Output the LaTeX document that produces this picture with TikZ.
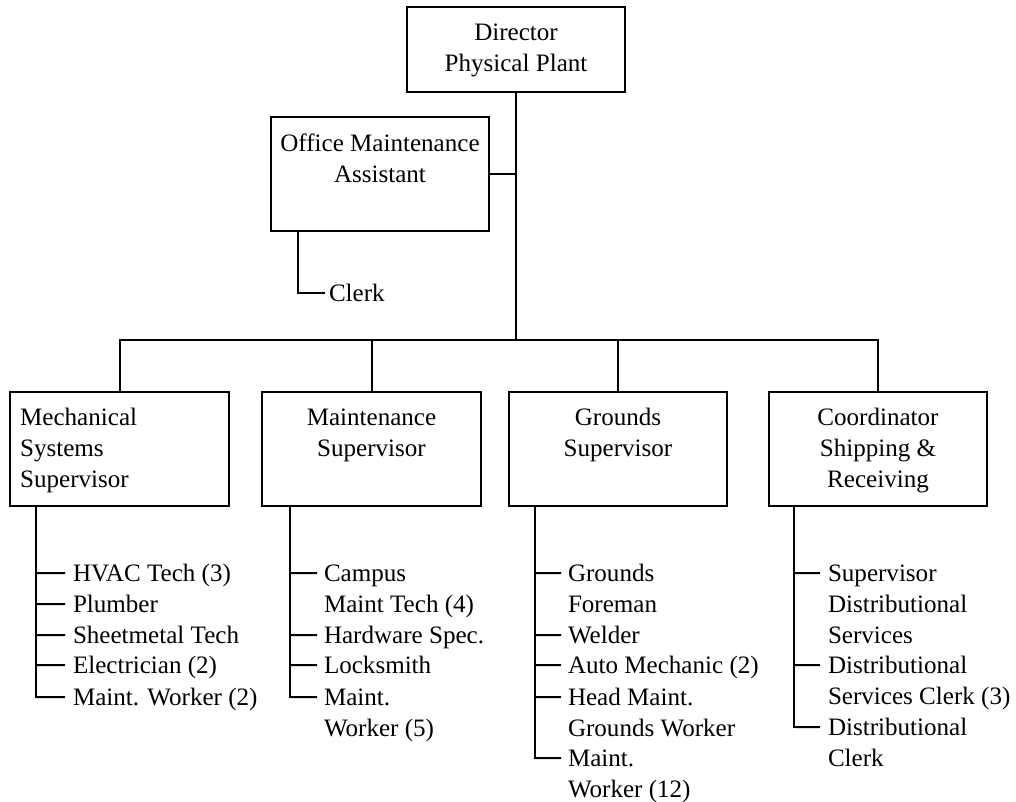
\documentclass[tikz,border=0pt]{standalone}
\usepackage{fontspec}
\setmainfont{Liberation Serif}
\begin{document}
\begin{tikzpicture}[x=0.75pt,y=-0.75pt,line width=1.5pt,
  box/.style={draw,inner sep=0pt,minimum width=164pt,minimum height=85.5pt},
  lbl/.style={font=\fontsize{18.8}{23.25}\selectfont,inner sep=0pt},
  title/.style={lbl,align=center,anchor=north},
  item/.style={lbl,align=left,anchor=north west}]
\useasboundingbox (0,0) rectangle (1016,802);

% top level
\node[box,minimum height=63.75pt] (dir) at (516,49.5) {};
\node[title] (dirT) at ([yshift=-8.5pt]dir.north) {\strut Director\\Physical Plant};

\node[box] (off) at (380,174) {};
\node[title] (offT) at ([yshift=-9.5pt]off.north) {\strut Office Maintenance\\Assistant};
\node[item] (clerk) at (328,278.3) {\strut Clerk};

\coordinate (bus) at (516,340);
\draw (dir.south) -- (bus);
\draw (off.east) -- (off.east -| bus);
\draw ([xshift=21pt]off.south west) |- ([shift={(-3,14.7)}]clerk.north west);

% supervisors
\node[box] (mech) at (119.5,449) {};
\node[item] (mechT) at ([shift={(10,11.3)}]mech.north west) {\strut Mechanical\\Systems\\Supervisor};
\node[box] (maint) at (371.5,449) {};
\node[title] (maintT) at ([yshift=-8.5pt]maint.north) {\strut Maintenance\\Supervisor};
\node[box] (grnd) at (618,449) {};
\node[title] (grndT) at ([yshift=-8.5pt]grnd.north) {\strut Grounds\\Supervisor};
\node[box] (ship) at (878,449) {};
\node[title] (shipT) at ([yshift=-8.5pt]ship.north) {\strut Coordinator\\Shipping \&\\Receiving};

\draw (mech.north) -- (mech.north |- bus) -| (ship.north);
\draw (maint.north) -- (maint.north |- bus);
\draw (grnd.north) -- (grnd.north |- bus);

% staff lists
\draw ([xshift=20.25pt]mech.south west) -- ++(0,191);
\foreach \n/\y/\t in {m1/573/{HVAC Tech (3)},m2/604/{Plumber},m3/635/{Sheetmetal Tech},
    m4/665/{Electrician (2)},m5/697/{Maint. Worker (2)}} {
  \node[item] (\n) at (72,\y-14.7) {\strut\t};
  \draw (37,\y) -- ([shift={(-7,14.7)}]\n.north west);
}

\draw ([xshift=21.75pt]maint.south west) -- ++(0,191);
\foreach \n/\y/\t in {s1/573/{Campus\\Maint Tech (4)},s2/635/{Hardware Spec.},
    s3/665/{Locksmith},s4/697/{Maint.\\Worker (5)}} {
  \node[item] (\n) at (323,\y-14.7) {\strut\t};
  \draw (291,\y) -- ([shift={(-6,14.7)}]\n.north west);
}

\draw ([xshift=20.25pt]grnd.south west) -- ++(0,252);
\foreach \n/\y/\t in {g1/573/{Grounds\\Foreman},g2/635/{Welder},g3/665/{Auto Mechanic (2)},
    g4/697/{Head Maint.\\Grounds Worker},g5/758/{Maint.\\Worker (12)}} {
  \node[item] (\n) at (567,\y-14.7) {\strut\t};
  \draw (535,\y) -- ([shift={(-6,14.7)}]\n.north west);
}

\draw ([xshift=19.5pt]ship.south west) -- ++(0,221);
\foreach \n/\y/\t in {c1/573/{Supervisor\\Distributional\\Services},
    c2/665/{Distributional\\Services Clerk (3)},c3/727/{Distributional\\Clerk}} {
  \node[item] (\n) at (827,\y-14.7) {\strut\t};
  \draw (795,\y) -- ([shift={(-7,14.7)}]\n.north west);
}
\end{tikzpicture}
\end{document}
